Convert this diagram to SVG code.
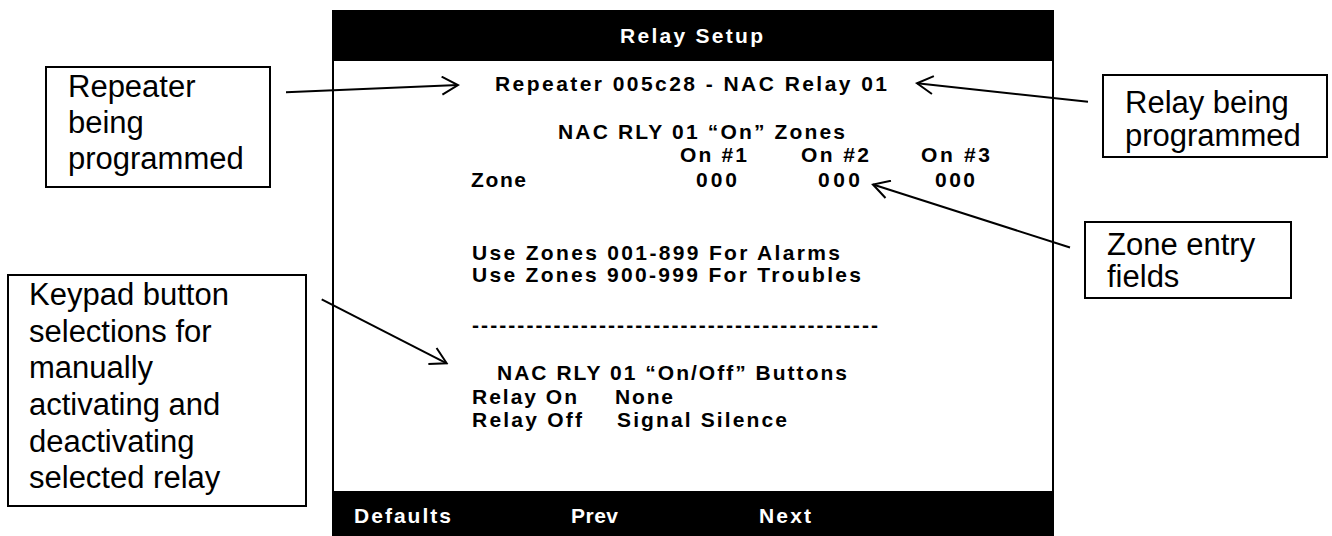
<svg xmlns="http://www.w3.org/2000/svg" width="1332" height="536" viewBox="0 0 1332 536">
<style>
.scr{font-family:"Liberation Sans",Arial,sans-serif;font-weight:bold;font-size:21px;fill:#000}
.inv{fill:#fff}
.call{font-family:"Liberation Sans",Arial,sans-serif;font-size:31px;fill:#000}
.box{fill:#fff;stroke:#000;stroke-width:2}
.conn{stroke:#000;stroke-width:2;fill:none;marker-end:url(#vhead)}
</style>
<defs>
<marker id="vhead" viewBox="0 0 20 20" refX="18" refY="10" markerWidth="20" markerHeight="20" markerUnits="userSpaceOnUse" orient="auto">
<path d="M2,1 L18,10 L2,19" fill="none" stroke="#000" stroke-width="2"/>
</marker>
</defs>
<rect width="1332" height="536" fill="#fff"/>
<g id="screen">
<rect x="333" y="11" width="720" height="530" fill="#fff" stroke="#000" stroke-width="2"/>
<rect x="332" y="10" width="722" height="51" fill="#000"/>
<rect x="332" y="491" width="722" height="45" fill="#000"/>
<text class="scr inv" x="620" y="43" textLength="143" lengthAdjust="spacing">Relay Setup</text>
<text class="scr" x="495" y="91" textLength="392" lengthAdjust="spacing">Repeater 005c28 - NAC Relay 01</text>
<text class="scr" x="558" y="139" textLength="287" lengthAdjust="spacing">NAC RLY 01 “On” Zones</text>
<text class="scr" x="680" y="162" textLength="67" lengthAdjust="spacing">On #1</text>
<text class="scr" x="801" y="162" textLength="68" lengthAdjust="spacing">On #2</text>
<text class="scr" x="921" y="162" textLength="69" lengthAdjust="spacing">On #3</text>
<text class="scr" x="471" y="187" textLength="55" lengthAdjust="spacing">Zone</text>
<text class="scr" x="696" y="187" textLength="41" lengthAdjust="spacing">000</text>
<text class="scr" x="818" y="187" textLength="42" lengthAdjust="spacing">000</text>
<text class="scr" x="935" y="187" textLength="40" lengthAdjust="spacing">000</text>
<text class="scr" x="472" y="260" textLength="368" lengthAdjust="spacing">Use Zones 001-899 For Alarms</text>
<text class="scr" x="472" y="282" textLength="389" lengthAdjust="spacing">Use Zones 900-999 For Troubles</text>
<text class="scr" x="472" y="332" textLength="406" lengthAdjust="spacing">---------------------------------------------</text>
<text class="scr" x="497" y="380" textLength="350" lengthAdjust="spacing">NAC RLY 01 “On/Off” Buttons</text>
<text class="scr" x="472" y="404" textLength="105" lengthAdjust="spacing">Relay On</text>
<text class="scr" x="615" y="404" textLength="58" lengthAdjust="spacing">None</text>
<text class="scr" x="472" y="427" textLength="110" lengthAdjust="spacing">Relay Off</text>
<text class="scr" x="617" y="427" textLength="170" lengthAdjust="spacing">Signal Silence</text>
<text class="scr inv" x="354" y="523" textLength="97" lengthAdjust="spacing">Defaults</text>
<text class="scr inv" x="571" y="523" textLength="47" lengthAdjust="spacing">Prev</text>
<text class="scr inv" x="759" y="523" textLength="52" lengthAdjust="spacing">Next</text>
</g>
<g id="callout-repeater">
<rect class="box" x="46" y="67" width="224" height="120"/>
<text class="call" x="68" y="97">Repeater</text>
<text class="call" x="68" y="133">being</text>
<text class="call" x="68" y="169">programmed</text>
</g>
<g id="callout-relay">
<rect class="box" x="1103" y="75" width="224" height="82"/>
<text class="call" x="1125" y="113">Relay being</text>
<text class="call" x="1125" y="146">programmed</text>
</g>
<g id="callout-zone">
<rect class="box" x="1085" y="222" width="206" height="76"/>
<text class="call" x="1107" y="255">Zone entry</text>
<text class="call" x="1107" y="287">fields</text>
</g>
<g id="callout-keypad">
<rect class="box" x="8" y="275" width="298" height="231"/>
<text class="call" x="29" y="305">Keypad button</text>
<text class="call" x="29" y="342">selections for</text>
<text class="call" x="29" y="378">manually</text>
<text class="call" x="29" y="415">activating and</text>
<text class="call" x="29" y="452">deactivating</text>
<text class="call" x="29" y="488">selected relay</text>
</g>
<g id="connectors">
<line class="conn" x1="286" y1="92.3" x2="458" y2="85"/>
<line class="conn" x1="1088" y1="101.7" x2="917" y2="83.3"/>
<line class="conn" x1="1070" y1="247.5" x2="873" y2="184.5"/>
<line class="conn" x1="321.7" y1="299.3" x2="446.7" y2="363.3"/>
</g>
</svg>
